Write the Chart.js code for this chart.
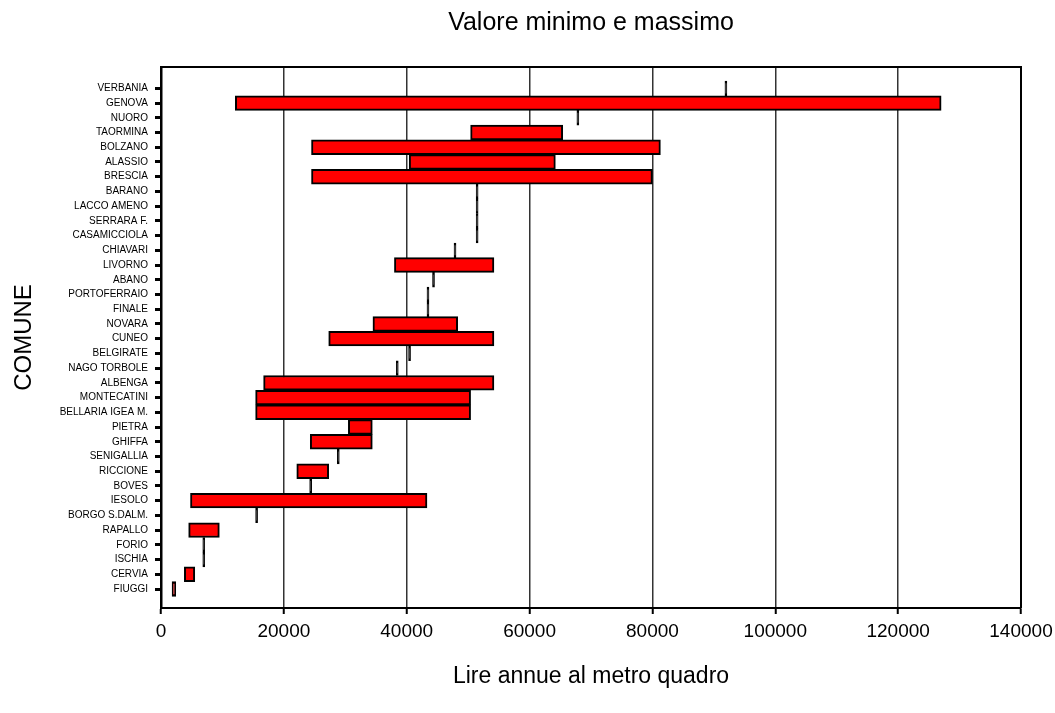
<!DOCTYPE html>
<html>
<head>
<meta charset="utf-8">
<script src="https://cdn.jsdelivr.net/npm/chart.js@4/dist/chart.umd.min.js"></script>
<style>
  body { margin: 0; background: #fff; }
  #wrap { width: 1055px; height: 713px; }
</style>
</head>
<body>
<div id="wrap"><canvas id="myChart"></canvas></div>
<script>
// comuni, from bottom (FIUGGI) to top (VERBANIA)
var comuni = ["FIUGGI", "CERVIA", "ISCHIA", "FORIO", "RAPALLO", "BORGO S.DALM.", "IESOLO", "BOVES",
  "RICCIONE", "SENIGALLIA", "GHIFFA", "PIETRA", "BELLARIA IGEA M.", "MONTECATINI", "ALBENGA",
  "NAGO TORBOLE", "BELGIRATE", "CUNEO", "NOVARA", "FINALE", "PORTOFERRAIO", "ABANO", "LIVORNO",
  "CHIAVARI", "CASAMICCIOLA", "SERRARA F.", "LACCO AMENO", "BARANO", "BRESCIA", "ALASSIO",
  "BOLZANO", "TAORMINA", "NUORO", "GENOVA", "VERBANIA"]
var minimo = [1800, 3800, 6800, 6800, 4500, 15400, 4800, 24200,
  22100, 28700, 24300, 30500, 15400, 15400, 16700,
  38300, 40300, 27300, 34500, 43300, 43300, 44200, 38000,
  47700, 51300, 51300, 51300, 51300, 24500, 40400,
  24500, 50400, 67700, 12100, 91800]
var massimo = [2400, 5500, 6800, 6800, 9500, 15400, 43300, 24200,
  27300, 28700, 34400, 34400, 50400, 50400, 54200,
  38300, 40300, 54200, 48300, 43300, 43300, 44200, 54200,
  47700, 51300, 51300, 51300, 51300, 80000, 64200,
  81300, 65400, 67700, 127000, 91800]
var xTicks = [0, 20000, 40000, 60000, 80000, 100000, 120000, 140000]

var punti = comuni.map(function(c, i) {
  return { x: [minimo[i], massimo[i]], y: i }
})

var cornice = {
  id: "cornice",
  afterDraw: function(chart) {
    var a = chart.chartArea, ctx = chart.ctx
    ctx.save()
    ctx.strokeStyle = "#000"
    ctx.lineWidth = 2
    ctx.beginPath()
    ctx.moveTo(a.left, a.top)
    ctx.lineTo(a.right, a.top)
    ctx.lineTo(a.right, a.bottom)
    ctx.stroke()
    ctx.restore()
  }
}

var chart = new Chart("myChart", {
  type: "bar",
  data: {
    datasets: [{
      label: "Valore minimo e massimo",
      data: punti,
      // min == max: solo una linea nera
      backgroundColor: function(ctx) {
        var i = ctx.dataIndex
        return minimo[i] === massimo[i] ? "#000000" : "#ff0000"
      },
      borderColor: "#000000",
      borderWidth: 2,
      borderSkipped: false,
      barPercentage: 1,
      categoryPercentage: 1,
      minBarLength: 2
    }]
  },
  options: {
    indexAxis: "y",
    responsive: true,
    maintainAspectRatio: false,
    animation: false,
    layout: { padding: { left: 0, right: 34, top: 0, bottom: 0 } },
    plugins: {
      legend: { display: false },
      tooltip: { enabled: false }
    },
    scales: {
      x: {
        type: "linear",
        min: 0,
        max: 140000,
        afterBuildTicks: function(scale) {
          scale.ticks = xTicks.map(function(v) { return { value: v } })
        },
        afterFit: function(scale) {
          scale.height = 105
          scale.paddingLeft = 0
          scale.paddingRight = 0
        },
        grid: { color: "#333", lineWidth: 1.5, tickLength: 6, tickColor: "#000", tickWidth: 2 },
        border: { color: "#000", width: 2 },
        ticks: {
          color: "#000",
          padding: 6,
          maxRotation: 0,
          font: { family: "Liberation Sans, Arial", size: 19 },
          callback: function(v) { return String(v) }
        },
        title: {
          display: true,
          text: "Lire annue al metro quadro",
          color: "#000",
          font: { family: "Liberation Sans, Arial", size: 23 },
          padding: { top: 0, bottom: 23 }
        }
      },
      // asse superiore usato solo per il titolo, centrato sull'area del grafico
      titolo: {
        type: "linear",
        axis: "x",
        position: "top",
        min: 0,
        max: 140000,
        afterFit: function(scale) {
          scale.height = 67
          scale.paddingLeft = 0
          scale.paddingRight = 0
        },
        grid: { display: false },
        border: { display: false },
        ticks: { display: false },
        title: {
          display: true,
          text: "Valore minimo e massimo",
          color: "#000",
          font: { family: "Liberation Sans, Arial", size: 25 },
          padding: { top: 8, bottom: 0 }
        }
      },
      y: {
        type: "linear",
        offset: false,
        min: -1.29,
        max: 35.45,
        afterBuildTicks: function(scale) {
          scale.ticks = comuni.map(function(c, i) { return { value: i } })
        },
        afterFit: function(scale) { scale.width = 161 },
        grid: { offset: false, drawOnChartArea: false, tickLength: 6, tickColor: "#000", tickWidth: 3 },
        border: { color: "#000", width: 2.5 },
        ticks: {
          color: "#000",
          padding: 7,
          autoSkip: false,
          font: { family: "Liberation Sans, Arial", size: 10 },
          callback: function(v) { return comuni[v] }
        },
        title: {
          display: true,
          text: "COMUNE",
          color: "#000",
          font: { family: "Liberation Sans, Arial", size: 24 },
          padding: { top: 10, bottom: 0 }
        }
      }
    }
  },
  plugins: [cornice]
})
</script>
</body>
</html>
